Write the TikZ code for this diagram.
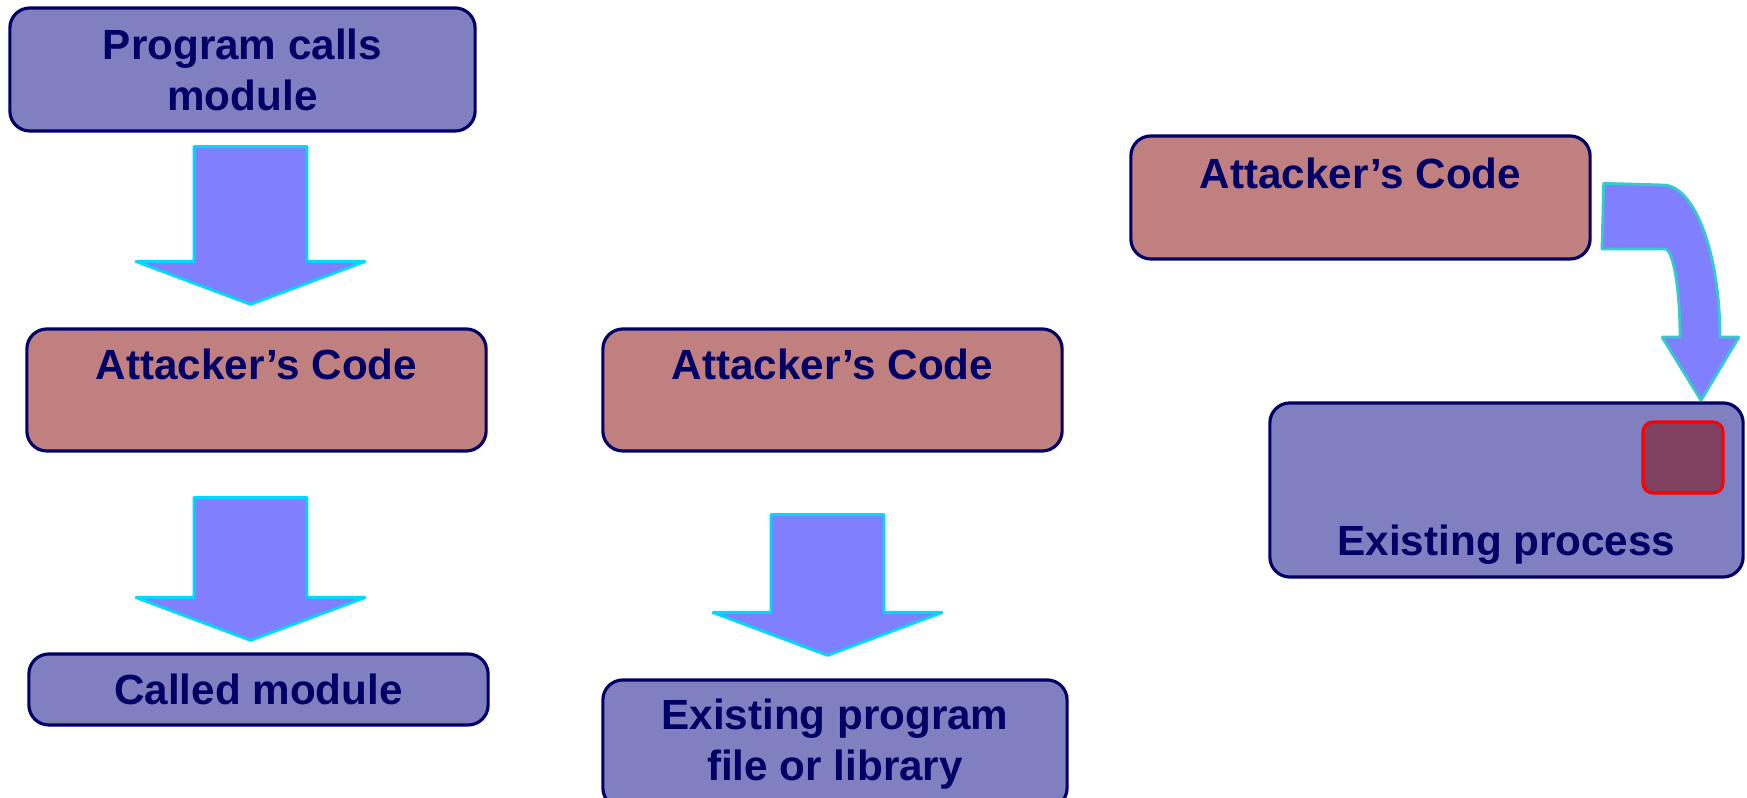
\documentclass[tikz,border=0pt]{standalone}
\usepackage{fontspec}
\setmainfont{Liberation Sans}
\usetikzlibrary{calc,positioning}

\definecolor{boxblue}{HTML}{8080C0}
\definecolor{boxred}{HTML}{C08080}
\definecolor{navy}{HTML}{000066}
\definecolor{arrowfill}{HTML}{8080FF}
\definecolor{arrowedge}{HTML}{00D8FF}
\definecolor{curveedge}{HTML}{33CCCC}
\definecolor{payload}{HTML}{804060}

\tikzset{
  box/.style={rectangle,rounded corners=0.2cm,draw=navy,line width=0.9pt,fill=boxblue,
    text=navy,font=\bfseries\fontsize{12}{14.5}\selectfont,align=center,inner sep=0pt},
  atkbox/.style={box,fill=boxred},
  boxlabel/.style={text=navy,font=\bfseries\fontsize{12}{14.5}\selectfont,inner sep=0pt},
  blockarrow/.style={fill=arrowfill,draw=arrowedge,line width=0.8pt,line join=bevel},
}

% block arrow pointing down, from top point #1 to tip #2
\newcommand{\blockdown}[2]{%
  \draw[blockarrow] ($(#1)+(-56.5,0)$) -- ($(#1)+(56.5,0)$) -- ($(#2)+(56.5,-43)$)
    -- ($(#2)+(115,-43)$) -- (#2) -- ($(#2)+(-115,-43)$) -- ($(#2)+(-56.5,-43)$) -- cycle;}

\begin{document}
\begin{tikzpicture}[x=0.01cm,y=-0.01cm]
	\useasboundingbox (0,0) rectangle (1747,798);

	% left column
	\node[box,minimum width=4.65cm,minimum height=1.23cm] (prog) at (242.5,69.5) {Program calls\\module};
	\node[atkbox,minimum width=4.59cm,minimum height=1.22cm] (atk1) at (256.5,390) {};
	\node[boxlabel] at ($(atk1.north)+(0,37)$) {Attacker’s Code};
	\node[box,minimum width=4.59cm,minimum height=0.71cm] (called) at (258.5,689.5) {Called module};

	% middle column
	\node[atkbox,minimum width=4.59cm,minimum height=1.22cm] (atk2) at (832.5,390) {};
	\node[boxlabel] at ($(atk2.north)+(0,37)$) {Attacker’s Code};
	\node[box,minimum width=4.64cm,minimum height=1.28cm] (exist) at (835,744) {Existing program\\file or library};

	% right column
	\node[atkbox,minimum width=4.59cm,minimum height=1.23cm] (atk3) at (1360.5,197.5) {};
	\node[boxlabel] at ($(atk3.north)+(0,39)$) {Attacker’s Code};
	\node[box,minimum width=4.73cm,minimum height=1.74cm] (proc) at (1506.5,490) {};
	\node[boxlabel] at ($(proc.south)+(0,-34)$) {Existing process};
	\node[rectangle,rounded corners=0.1cm,draw=red,line width=0.9pt,fill=payload,
		minimum width=0.8cm,minimum height=0.71cm] (inject) at (1683,457.5) {};

	% arrows
	\coordinate (a1top) at ($(prog.south)+(8,14)$);
	\coordinate (a1tip) at ($(a1top |- atk1.north)+(0,-23)$);
	\coordinate (a2top) at ($(atk1.south)+(-6,45)$);
	\coordinate (a2tip) at ($(a2top |- called.north)+(0,-12)$);
	\coordinate (a3top) at ($(atk2.south)+(-5,62)$);
	\coordinate (a3tip) at ($(a3top |- exist.north)+(0,-23)$);
	\blockdown{a1top}{a1tip}
	\blockdown{a2top}{a2tip}
	\blockdown{a3top}{a3tip}

	\coordinate (c1) at ($(atk3.north east)+(12,49)$);
	\coordinate (c2) at ($(proc.north)+(194.5,-1)$);
	\draw[blockarrow,draw=curveedge] (c1) -- (1663,185) .. controls (1694.5,185) and (1720,253) .. (1720,337)
		-- (1739,337) -- (c2) -- (1662,337) -- (1680,337)
		.. controls (1680,288) and (1673,249) .. (1665,249) -- (1602,249) -- cycle;
\end{tikzpicture}
\end{document}
